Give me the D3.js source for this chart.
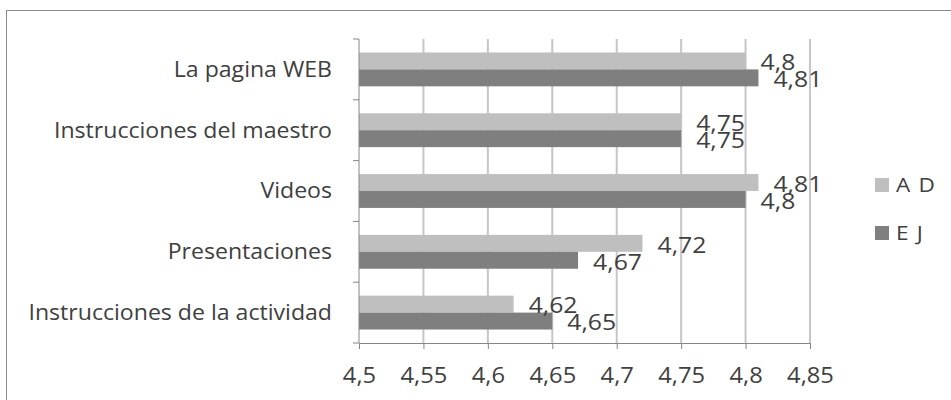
<!DOCTYPE html>
<html><head><meta charset="utf-8">
<script src="https://cdn.jsdelivr.net/npm/d3@7"></script>
<style>body{margin:0;background:#fff}svg{display:block}text{font-family:"Open Sans",sans-serif;fill:#404040}</style>
</head><body><svg id="c" width="951" height="400"></svg>
<script>
const categories = ["La pagina WEB","Instrucciones del maestro","Videos","Presentaciones","Instrucciones de la actividad"];
const seriesNames = ["A D","E J"];
const valuesAD = [4.8, 4.75, 4.81, 4.72, 4.62];
const valuesEJ = [4.81, 4.75, 4.8, 4.67, 4.65];
const tickValues = [4.5,4.55,4.6,4.65,4.7,4.75,4.8,4.85];
const colors = ["#bfbfbf","#7f7f7f"];
const SX = 1.13;

const svg = d3.select("#c");
const fmt = v => String(+v.toFixed(2)).replace(".", ",");
svg.append("rect").attr("x",6.5).attr("y",10.5).attr("width",960).attr("height",400)
  .attr("fill","#fff").attr("stroke","#8c8c8c").attr("stroke-width",1);

const x = d3.scaleLinear().domain([4.5,4.85]).range([359,810]);
const y = d3.scaleBand().domain(categories).range([39,343]).paddingInner(0.443).paddingOuter(0.2215);
const y2 = d3.scaleBand().domain(seriesNames).range([0,y.bandwidth()]);

svg.append("g").selectAll("line").data(tickValues.slice(1)).join("line")
  .attr("x1",d=>x(d)).attr("x2",d=>x(d)).attr("y1",39).attr("y2",343)
  .attr("stroke","#c6c6c6").attr("stroke-width",2);

const data = categories.map((c,i)=>({c, vals:[valuesAD[i], valuesEJ[i]]}));
const g = svg.append("g");
data.forEach(d=>{
  d.vals.forEach((v,j)=>{
    g.append("rect").attr("x",x(4.5)).attr("y",y(d.c)+y2(seriesNames[j]))
      .attr("width",x(v)-x(4.5)).attr("height",y2.bandwidth()).attr("fill",colors[j]);
  });
});

const xa = svg.append("g").attr("transform","translate(0,343)")
  .call(d3.axisBottom(x).tickValues(tickValues).tickFormat(fmt).tickSize(6).tickPadding(19));
xa.select(".domain").attr("stroke","#868686");
xa.selectAll(".tick line").attr("stroke","#868686");
xa.selectAll("text").attr("font-size",21).attr("fill","#404040").attr("font-family","Open Sans")
  .attr("transform",`scale(${SX},1)`);

const ya = svg.append("g").attr("transform","translate(359,0)");
ya.append("line").attr("x1",0).attr("x2",0).attr("y1",39).attr("y2",343).attr("stroke","#868686");
const bounds = categories.map(c=>y(c)-y.step()*0.2215).concat([343]);
ya.selectAll("line.t").data(bounds).join("line").attr("class","t")
  .attr("x1",-6).attr("x2",0).attr("y1",d=>d).attr("y2",d=>d).attr("stroke","#868686");
ya.selectAll("text").data(categories).join("text")
  .attr("transform",c=>`translate(-27,${y(c)+y.bandwidth()/2}) scale(1.1,1)`).attr("dy","0.35em")
  .attr("text-anchor","end").attr("font-size",21).text(c=>c);

data.forEach(d=>{
  d.vals.forEach((v,j)=>{
    g.append("text")
      .attr("transform",`translate(${x(v)+15},${y(d.c)+y2(seriesNames[j])+y2.bandwidth()/2+2}) scale(${SX+0.05},1)`)
      .attr("dy","0.35em").attr("font-size",21).text(fmt(v));
  });
});

const leg = svg.append("g");
const legY = [185, 233];
seriesNames.forEach((s,i)=>{
  leg.append("rect").attr("x",875).attr("y",legY[i]-7).attr("width",14).attr("height",14).attr("fill",colors[i]);
  leg.append("text").attr("transform",`translate(896,${legY[i]}) scale(${SX},1)`).attr("dy","0.35em").attr("font-size",20)
    .attr("letter-spacing",1).text(s);
});
</script></body></html>
